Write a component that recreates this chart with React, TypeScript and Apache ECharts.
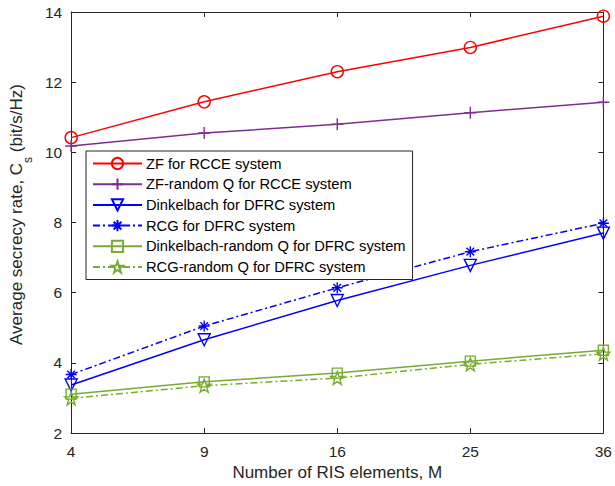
import React, { useEffect, useRef } from "react";
import * as echarts from "echarts";

const categories = ["4", "9", "16", "25", "36"];
const yTicks = { min: 2, max: 14, interval: 2 };

const zfRcce = [10.42, 11.44, 12.3, 12.99, 13.88];
const zfRandomRcce = [10.18, 10.55, 10.8, 11.13, 11.43];
const dinkelbachDfrc = [3.37, 4.66, 5.78, 6.78, 7.7];
const rcgDfrc = [3.67, 5.05, 6.14, 7.17, 7.98];
const dinkelbachRandomDfrc = [3.11, 3.46, 3.71, 4.05, 4.36];
const rcgRandomDfrc = [2.99, 3.35, 3.57, 3.96, 4.26];

const seriesNames = [
  "ZF for RCCE system",
  "ZF-random Q for RCCE system",
  "Dinkelbach for DFRC system",
  "RCG for DFRC system",
  "Dinkelbach-random Q for DFRC system",
  "RCG-random Q for DFRC system",
];

const FONT = "'Liberation Sans', Arial, Helvetica, sans-serif";
const AX = "#262626";

const plusPath = "path://M0,-10 L0,10 M-10,0 L10,0";
const asteriskPath =
  "path://M0,-10 L0,10 M-10,0 L10,0 M-7,-7 L7,7 M-7,7 L7,-7";
const triDownPath = "path://M-10,-8 L10,-8 L0,10 Z";
const starPath =
  "path://M0,-10 L2.35,-3.24 L9.51,-3.09 L3.8,1.24 L5.88,8.09 L0,4 L-5.88,8.09 L-3.8,1.24 L-9.51,-3.09 L-2.35,-3.24 Z";

export default function App() {
  const ref = useRef<HTMLDivElement>(null);
  useEffect(() => {
    if (!ref.current) return;
    const chart = echarts.init(ref.current, undefined, { renderer: "svg" });
    const mk = (
      name: string,
      data: number[],
      color: string,
      symbol: string,
      size: number,
      dash: any
    ) => ({
      name,
      type: "line",
      data,
      xAxisIndex: 0,
      yAxisIndex: 0,
      symbol,
      symbolSize: size,
      showAllSymbol: true,
      lineStyle: { color, width: 1.5, type: dash },
      itemStyle: { color: "rgba(255,255,255,0)", borderColor: color, borderWidth: 1.4 },
      emphasis: { disabled: true },
    });
    const dashDot = [7, 3, 2, 3];
    chart.setOption({
      animation: false,
      textStyle: { fontFamily: FONT },
      grid: { left: 67, right: 10, top: 12, bottom: 50 },
      legend: {
        orient: "vertical",
        left: 86,
        top: 151,
        padding: [5, 7, 5, 6],
        itemGap: 5.7,
        itemWidth: 49,
        itemHeight: 14,
        backgroundColor: "#fff",
        borderColor: AX,
        borderWidth: 1,
        borderRadius: 0,
        textStyle: { fontSize: 14.7, lineHeight: 14, color: "#000", fontFamily: FONT, padding: [0, 0, 0, -1] },
        data: seriesNames,
      },
      xAxis: [
        {
          type: "category",
          data: categories,
          boundaryGap: false,
          position: "bottom",
          axisLine: { lineStyle: { color: AX, width: 1 } },
          axisTick: { inside: true, length: 5, lineStyle: { color: AX } },
          axisLabel: { fontSize: 15.5, color: AX, margin: 10, fontFamily: FONT },
          splitLine: { show: false },
          name: "Number of RIS elements, M",
          nameLocation: "middle",
          nameGap: 27,
          nameTextStyle: { fontSize: 17, color: AX, fontFamily: FONT },
        },
        {
          type: "category",
          data: categories,
          boundaryGap: false,
          position: "top",
          axisLine: { lineStyle: { color: AX, width: 1 } },
          axisTick: { inside: true, length: 5, lineStyle: { color: AX } },
          axisLabel: { show: false },
          splitLine: { show: false },
        },
      ],
      yAxis: [
        {
          type: "value",
          min: yTicks.min,
          max: yTicks.max,
          interval: yTicks.interval,
          position: "left",
          axisLine: { show: true, lineStyle: { color: AX, width: 1 } },
          axisTick: { show: true, inside: true, length: 5, lineStyle: { color: AX } },
          axisLabel: { fontSize: 15.5, color: AX, margin: 9, fontFamily: FONT },
          splitLine: { show: false },
          name: "{a|Average secrecy rate, C}{sub|s}{a| (bit/s/Hz)}",
          nameLocation: "middle",
          nameGap: 42,
          nameTextStyle: {
            padding: [0, 0, 0, 16],
            rich: {
              a: { fontSize: 17, color: AX, fontFamily: FONT },
              sub: { fontSize: 12, color: AX, fontFamily: FONT, verticalAlign: "bottom", padding: [0, 0, -9, 0] },
            },
          },
        },
        {
          type: "value",
          min: yTicks.min,
          max: yTicks.max,
          interval: yTicks.interval,
          position: "right",
          axisLine: { show: true, lineStyle: { color: AX, width: 1 } },
          axisTick: { show: true, inside: true, length: 5, lineStyle: { color: AX } },
          axisLabel: { show: false },
          splitLine: { show: false },
        },
      ],
      series: [
        mk(seriesNames[0], zfRcce, "#FF0000", "circle", 12, "solid"),
        mk(seriesNames[1], zfRandomRcce, "#7E2F8E", plusPath, 12, "solid"),
        mk(seriesNames[2], dinkelbachDfrc, "#0000FF", triDownPath, 12, "solid"),
        mk(seriesNames[3], rcgDfrc, "#0000FF", asteriskPath, 11, dashDot),
        mk(seriesNames[4], dinkelbachRandomDfrc, "#77AC30", "rect", 10, "solid"),
        mk(seriesNames[5], rcgRandomDfrc, "#77AC30", starPath, 13, dashDot),
      ],
    });
    return () => chart.dispose();
  }, []);
  return <div ref={ref} style={{ width: 615, height: 486, position: "absolute", left: 0, top: 0 }} />;
}
